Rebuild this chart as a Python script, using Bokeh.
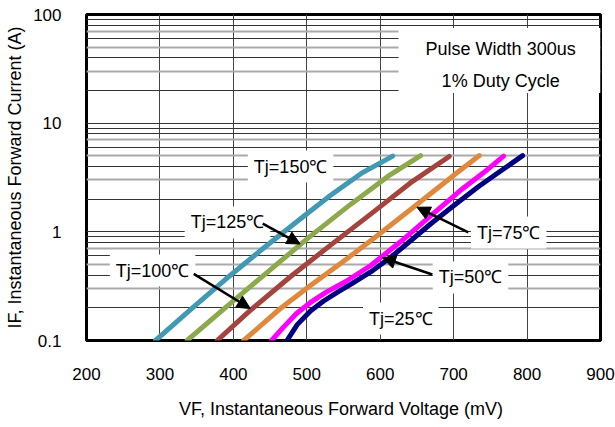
from bokeh.plotting import figure
from bokeh.models import (FixedTicker, Grid, Label, Arrow, NormalHead, BoxAnnotation,
                          CustomJSTickFormatter, Range1d)
from bokeh.embed import file_html
from bokeh.resources import INLINE

# ---- data (VF in mV, IF in A) ----
tj150_v = [294, 342, 389, 437, 485, 532, 576, 617]
tj150_i = [0.1, 0.193, 0.364, 0.673, 1.218, 2.158, 3.51, 4.98]
tj125_v = [337, 396, 451, 505, 560, 614, 655]
tj125_i = [0.1, 0.22, 0.452, 0.913, 1.798, 3.366, 5.02]
tj100_v = [378, 423, 478, 532, 587, 641, 694]
tj100_i = [0.1, 0.189, 0.388, 0.751, 1.455, 2.818, 4.94]
tj75_v = [414, 464, 505, 546, 591, 650, 705, 735]
tj75_i = [0.1, 0.197, 0.321, 0.511, 0.868, 1.783, 3.51, 5.03]
tj50_v = [452, 468, 486, 505, 526, 553, 587, 628, 669, 709, 741, 768]
tj50_i = [0.1, 0.132, 0.177, 0.224, 0.277, 0.349, 0.49, 0.814, 1.413, 2.399, 3.51, 4.98]
tj25_v = [473, 487, 505, 523, 542, 562, 587, 614, 641, 671, 703, 734, 764, 794]
tj25_i = [0.1, 0.140, 0.187, 0.231, 0.279, 0.335, 0.427, 0.580, 0.823, 1.218, 1.802,
          2.61, 3.625, 5.03]

series = [
    (tj150_v, tj150_i, "#4199B3"),
    (tj125_v, tj125_i, "#8CAA4C"),
    (tj100_v, tj100_i, "#A5443F"),
    (tj75_v, tj75_i, "#E0893C"),
    (tj50_v, tj50_i, "#FF00FF"),
    (tj25_v, tj25_i, "#000080"),
]

x_ticks = [200, 300, 400, 500, 600, 700, 800, 900]
y_ticks = [0.1, 1, 10, 100]
y_dark_minor = [0.2, 0.4, 0.6, 0.8, 0.9, 1, 2, 4, 6, 8, 9, 10, 20, 40, 60, 80, 90]
y_gray_minor = [0.3, 0.5, 0.7, 3, 5, 7, 30, 50, 70]

# labels: text, x, y
labels = [
    ("Tj=150\u2103", 478, 3.99),
    ("Tj=125\u2103", 392, 1.22),
    ("Tj=100\u2103", 290, 0.44),
    ("Tj=75\u2103", 775, 0.985),
    ("Tj=50\u2103", 723, 0.38),
    ("Tj=25\u2103", 628, 0.159),
]
# arrows: x_start, y_start, x_end, y_end
arrows = [
    (440, 1.19, 491, 0.772),
    (346, 0.41, 423, 0.197),
    (720, 0.99, 650, 1.684),
    (671, 0.405, 603, 0.577),
]
note_lines = [("Pulse Width 300us", 764, 48.5), ("1% Duty Cycle", 764, 24.2)]

FONT = "Liberation Sans"

p = figure(width=615, height=427, y_axis_type="log", output_backend="svg",
           toolbar_location=None, x_range=Range1d(200, 900), y_range=Range1d(0.1, 100),
           min_border_left=86, min_border_right=15, min_border_top=14, min_border_bottom=87)

p.outline_line_color = "black"
p.outline_line_width = 3
p.background_fill_color = "white"
p.border_fill_color = "white"

p.xgrid.visible = False
p.ygrid.visible = False
p.add_layout(Grid(dimension=0, ticker=FixedTicker(ticks=[300, 400, 500, 600, 700, 800]),
                  grid_line_color="#444444", grid_line_width=1))
p.add_layout(Grid(dimension=1, ticker=FixedTicker(ticks=y_gray_minor),
                  grid_line_color="#aaaaaa", grid_line_width=2))
p.add_layout(Grid(dimension=1, ticker=FixedTicker(ticks=y_dark_minor),
                  grid_line_color="#333333", grid_line_width=1))

for ax in (p.xaxis[0], p.yaxis[0]):
    ax.axis_line_color = None
    ax.major_tick_line_color = None
    ax.minor_tick_line_color = None
    ax.major_tick_out = 0
    ax.major_tick_in = 0
    ax.minor_tick_out = 0
    ax.major_label_text_font = FONT
    ax.major_label_text_font_size = "17px"
    ax.major_label_text_color = "black"
    ax.axis_label_text_font = FONT
    ax.axis_label_text_font_size = "18px"
    ax.axis_label_text_font_style = "normal"
    ax.axis_label_text_color = "black"

p.xaxis.ticker = FixedTicker(ticks=x_ticks)
p.yaxis.ticker = FixedTicker(ticks=y_ticks)
p.yaxis.formatter = CustomJSTickFormatter(code="return String(tick);")
p.xaxis.major_label_standoff = 27
p.yaxis.major_label_standoff = 25
p.xaxis.axis_label = "VF, Instantaneous Forward  Voltage (mV)"
p.yaxis.axis_label = "IF, Instantaneous Forward Current (A)"
p.xaxis.axis_label_standoff = 16
p.yaxis.axis_label_standoff = 5

for v, i, c in series:
    p.line(v, i, line_color=c, line_width=5, line_cap="round", line_join="round")

p.add_layout(BoxAnnotation(left=625, right=900, bottom=19.0, top=75,
                           fill_color="white", fill_alpha=1, line_color=None))
for t, x, y in note_lines:
    p.add_layout(Label(x=x, y=y, text=t, text_align="center", text_baseline="middle",
                       text_font=FONT, text_font_size="18px", text_color="black"))

for t, x, y in labels:
    p.add_layout(Label(x=x, y=y, text=t, text_align="center", text_baseline="middle",
                       text_font=FONT, text_font_size="18px", text_color="black",
                       background_fill_color="white", background_fill_alpha=1,
                       padding=6))

for xs, ys, xe, ye in arrows:
    p.add_layout(Arrow(x_start=xs, y_start=ys, x_end=xe, y_end=ye,
                       line_color="black", line_width=2.5,
                       end=NormalHead(size=13, fill_color="black", line_color="black")))

open("out.html", "w").write(file_html(p, INLINE))
